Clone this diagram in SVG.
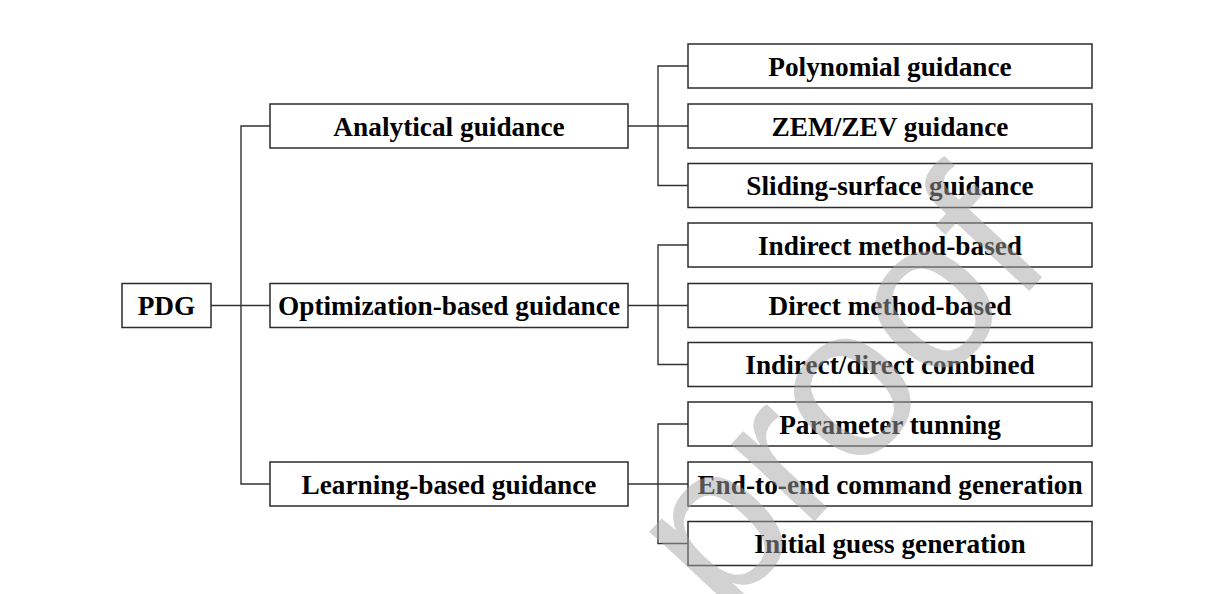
<svg xmlns="http://www.w3.org/2000/svg" width="1230" height="594" viewBox="0 0 1230 594">
  <style>
    .box { fill: #ffffff; stroke: #2b2b2b; stroke-width: 1.5; }
    .lbl { font-family: "Liberation Serif", "Times New Roman", serif; font-weight: bold; font-size: 27.3px; fill: #000; text-anchor: middle; }
    .wire { fill: none; stroke: #333; stroke-width: 1.4; }
    .mark { font-family: "Liberation Sans", Arial, sans-serif; font-size: 215px; fill: #a6a6a6; fill-opacity: 0.5; }
  </style>
  <rect width="1230" height="594" fill="#ffffff"/>

  <!-- connectors -->
  <g id="connectors">
    <path class="wire" d="M211 305.5 H270"/>
    <path class="wire" d="M270 126 H241 V484 H270"/>
    <path class="wire" d="M628 126 H688"/>
    <path class="wire" d="M688 66 H658 V185.5 H688"/>
    <path class="wire" d="M628 305.5 H688"/>
    <path class="wire" d="M688 245 H658 V364.5 H688"/>
    <path class="wire" d="M628 484 H688"/>
    <path class="wire" d="M688 424 H658 V543.5 H688"/>
  </g>

  <!-- root -->
  <g id="pdg">
    <rect class="box" x="122" y="283.5" width="89" height="44"/>
    <text class="lbl" x="166.5" y="315">PDG</text>
  </g>

  <!-- first level -->
  <g id="analytical">
    <rect class="box" x="270" y="104" width="358" height="44"/>
    <text class="lbl" x="449" y="135.5">Analytical guidance</text>
  </g>
  <g id="optimization">
    <rect class="box" x="270" y="283.5" width="358" height="44"/>
    <text class="lbl" x="449" y="315">Optimization-based guidance</text>
  </g>
  <g id="learning">
    <rect class="box" x="270" y="462" width="358" height="44"/>
    <text class="lbl" x="449" y="493.5">Learning-based guidance</text>
  </g>

  <!-- second level -->
  <g id="polynomial">
    <rect class="box" x="688" y="44" width="404" height="44"/>
    <text class="lbl" x="890" y="75.5">Polynomial guidance</text>
  </g>
  <g id="zem-zev">
    <rect class="box" x="688" y="104" width="404" height="44"/>
    <text class="lbl" x="890" y="135.5">ZEM/ZEV guidance</text>
  </g>
  <g id="sliding">
    <rect class="box" x="688" y="163.5" width="404" height="44"/>
    <text class="lbl" x="890" y="195">Sliding-surface guidance</text>
  </g>
  <g id="indirect">
    <rect class="box" x="688" y="223" width="404" height="44"/>
    <text class="lbl" x="890" y="254.5">Indirect method-based</text>
  </g>
  <g id="direct">
    <rect class="box" x="688" y="283.5" width="404" height="44"/>
    <text class="lbl" x="890" y="315">Direct method-based</text>
  </g>
  <g id="combined">
    <rect class="box" x="688" y="342.5" width="404" height="44"/>
    <text class="lbl" x="890" y="374">Indirect/direct combined</text>
  </g>
  <g id="parameter">
    <rect class="box" x="688" y="402" width="404" height="44"/>
    <text class="lbl" x="890" y="433.5">Parameter tunning</text>
  </g>
  <g id="end-to-end">
    <rect class="box" x="688" y="462" width="404" height="44"/>
    <text class="lbl" x="890" y="493.5">End-to-end command generation</text>
  </g>
  <g id="initial-guess">
    <rect class="box" x="688" y="521.5" width="404" height="44"/>
    <text class="lbl" x="890" y="553">Initial guess generation</text>
  </g>

  <!-- diagonal watermark -->
  <text class="mark" x="722.8" y="619.6" transform="rotate(-47 722.8 619.6)">proof</text>
</svg>
